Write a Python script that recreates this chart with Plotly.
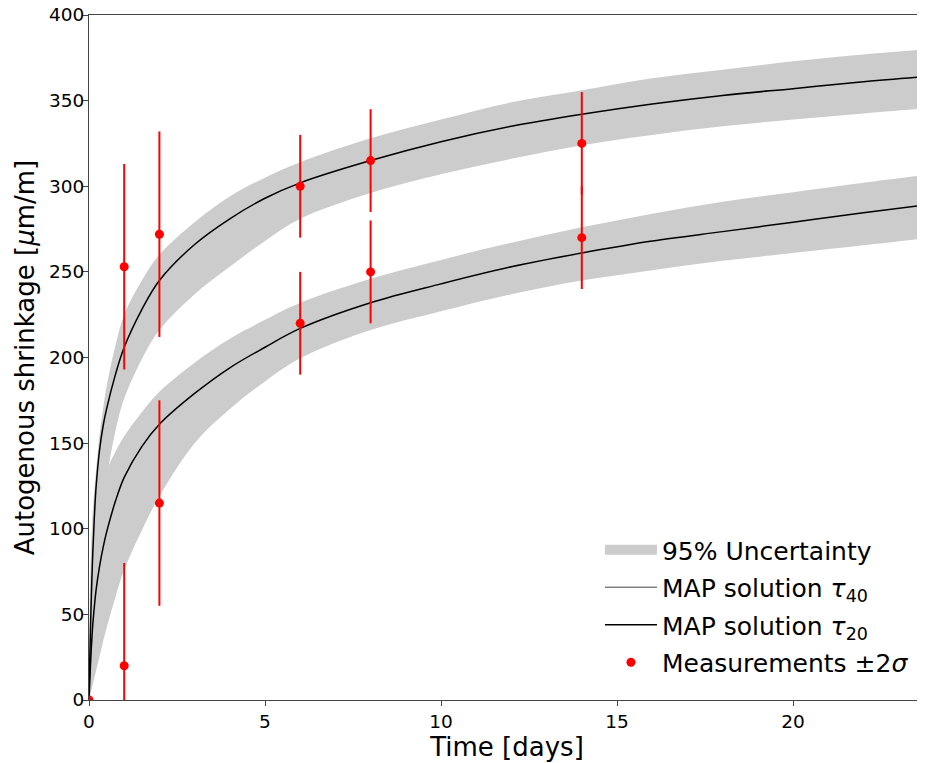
import plotly.graph_objects as go

# ---- data ----
time_grid = [0, 0.02, 0.05, 0.1, 0.15, 0.2, 0.3, 0.4, 0.5, 0.75, 1, 1.5, 2, 3, 4, 5, 6, 8,
             10, 12, 14, 16, 18, 20, 22, 23.75]

map_tau40 = [0, 22, 48, 82, 106, 124, 146, 160, 170, 190, 206, 228, 245, 266, 281, 293, 302, 315,
             326, 335, 342, 348, 353, 357, 361, 364]
band40_hi = [0, 55, 85, 108, 122, 134, 155, 170, 183, 207, 225, 245, 260, 279, 294, 305, 314, 328,
             339, 349, 356, 363, 368, 373, 377, 380]
band40_lo = [0, 8, 20, 38, 53, 70, 93, 112, 129, 157, 176, 199, 216, 237, 253, 268, 281, 296,
             307, 316, 324, 330, 335, 339, 342.5, 345.5]

map_tau20 = [0, 10, 24, 42, 54, 64, 78, 89, 98, 116, 130, 148, 161, 179, 194, 206, 217, 232,
             243, 253, 261, 268, 273.5, 279, 284.5, 289]
band20_hi = [0, 40, 64, 84, 96, 105, 118, 127, 134, 145, 154, 168, 180, 197, 211, 222, 232, 246,
             257, 267, 276, 284, 291, 296.5, 302, 306.5]
band20_lo = [0, 1.7, 4.2, 8.5, 12.8, 17, 25.5, 34, 42, 60, 76, 99, 119, 150, 170, 186, 199.5, 216,
             227, 237, 245, 251, 256.5, 261, 265.5, 269.5]

meas_time = [0, 1, 2, 6, 8, 14, 1, 2, 6, 8, 14]
meas_value = [0, 253, 272, 300, 315, 325, 20, 115, 220, 250, 270]
meas_err = [0, 60, 60, 30, 30, 30, 60, 60, 30, 30, 30]

x_ticks = [0, 5, 10, 15, 20]
y_ticks = [0, 50, 100, 150, 200, 250, 300, 350, 400]

BAND = "#cccccc"
FONT = "DejaVu Sans"

fig = go.Figure()

for lo, hi in [(band40_lo, band40_hi), (band20_lo, band20_hi)]:
    fig.add_trace(go.Scatter(x=time_grid, y=lo, mode="lines", line=dict(width=0, shape="spline"),
                             showlegend=False, hoverinfo="skip"))
    fig.add_trace(go.Scatter(x=time_grid, y=hi, mode="lines", line=dict(width=0, shape="spline"),
                             fill="tonexty", fillcolor=BAND, showlegend=False, hoverinfo="skip"))

# legend entries
fig.add_trace(go.Scatter(x=[None], y=[None], mode="lines", line=dict(color=BAND, width=10),
                         name="95% Uncertainty", legendgroup="g1", legendrank=1))

fig.add_trace(go.Scatter(x=time_grid, y=map_tau40, mode="lines",
                         line=dict(color="black", width=1.5, shape="spline"),
                         showlegend=False))
fig.add_trace(go.Scatter(x=[None], y=[None], mode="lines", line=dict(color="#808080", width=1.5),
                         name="MAP solution <i>τ</i><sub>40</sub>", legendgroup="g2", legendrank=2))
fig.add_trace(go.Scatter(x=time_grid, y=map_tau20, mode="lines",
                         line=dict(color="black", width=1.5, shape="spline"),
                         name="MAP solution <i>τ</i><sub>20</sub>", legendgroup="g3", legendrank=3))

fig.add_trace(go.Scatter(x=meas_time, y=meas_value, mode="markers",
                         marker=dict(color="red", size=9),
                         error_y=dict(type="data", array=meas_err, color="red", thickness=2, width=0),
                         name="Measurements ±2<i>σ</i>", legendgroup="g4", legendrank=4))

axis_common = dict(showline=True, linecolor="#444444", linewidth=1, ticks="outside",
                   ticklen=5, tickcolor="#444444", showgrid=False, zeroline=False,
                   ticklabeloverflow="allow", automargin=False,
                   tickfont=dict(family=FONT, size=18.5, color="black"))

# page body has an 8px margin: the figure is sized/offset to compensate
fig.update_layout(
    width=917, height=755,
    margin=dict(l=81, r=0, t=7, b=63),
    paper_bgcolor="white", plot_bgcolor="white",
    font=dict(family=FONT, color="black"),
    showlegend=True,
    legend=dict(x=0.6112, xanchor="left", y=0.2525, yanchor="top",
                bgcolor="rgba(0,0,0,0)", font=dict(family=FONT, size=25),
                itemwidth=52, tracegroupgap=2),
    xaxis=dict(range=[0, 23.75], tickvals=x_ticks, mirror=True,
               title=dict(text="Time [days]", font=dict(family=FONT, size=26), standoff=3),
               **axis_common),
    yaxis=dict(range=[0, 400], tickvals=y_ticks, ticklabelstandoff=-5,
               title=dict(text="Autogenous shrinkage [<i>μ</i>m/m]", font=dict(family=FONT, size=26), standoff=6),
               **axis_common),
)

fig.write_html("out.html")
